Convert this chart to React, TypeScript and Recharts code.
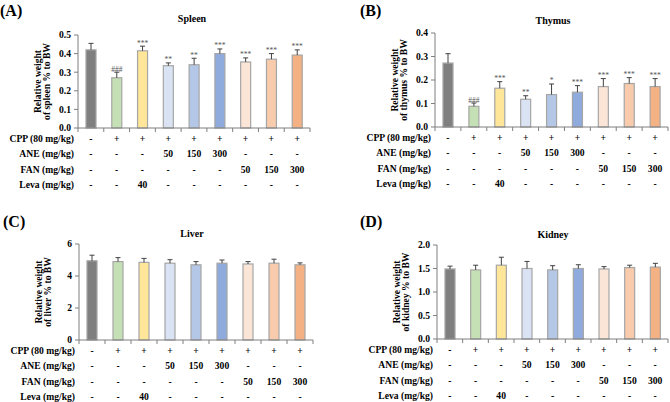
import React from 'react';
import { BarChart, Bar, XAxis, YAxis, Cell } from 'recharts';

const groups = ['Control', 'CPP', 'Leva', 'ANE50', 'ANE150', 'ANE300', 'FAN50', 'FAN150', 'FAN300'];
const barColors = ['#7f7f7f', '#c5e0b4', '#ffe699', '#dae3f3', '#b4c7e7', '#8faadc', '#fbe5d6', '#f8cbad', '#f4b183'];

const rowLabels = ['CPP (80 mg/kg)', 'ANE (mg/kg)', 'FAN (mg/kg)', 'Leva (mg/kg)'];
const cppRow = ['-', '+', '+', '+', '+', '+', '+', '+', '+'];
const aneRow = ['-', '-', '-', '50', '150', '300', '-', '-', '-'];
const fanRow = ['-', '-', '-', '-', '-', '-', '50', '150', '300'];
const levaRow = ['-', '-', '40', '-', '-', '-', '-', '-', '-'];
const tableRows = [cppRow, aneRow, fanRow, levaRow];

const spleenMean = [0.42, 0.27, 0.415, 0.335, 0.34, 0.40, 0.355, 0.37, 0.392];
const spleenSd = [0.035, 0.03, 0.025, 0.015, 0.035, 0.025, 0.022, 0.03, 0.028];
const spleenSig = ['', '###', '***', '**', '**', '***', '***', '***', '***'];
const spleenTicks = [0, 0.1, 0.2, 0.3, 0.4, 0.5];

const thymusMean = [0.272, 0.088, 0.165, 0.118, 0.138, 0.148, 0.172, 0.185, 0.172];
const thymusSd = [0.04, 0.014, 0.028, 0.015, 0.045, 0.028, 0.034, 0.025, 0.034];
const thymusSig = ['', '###', '***', '**', '*', '***', '***', '***', '***'];
const thymusTicks = [0, 0.1, 0.2, 0.3, 0.4];

const liverMean = [4.95, 4.9, 4.85, 4.8, 4.7, 4.8, 4.75, 4.8, 4.7];
const liverSd = [0.35, 0.25, 0.25, 0.22, 0.2, 0.2, 0.15, 0.25, 0.12];
const liverSig = ['', '', '', '', '', '', '', '', ''];
const liverTicks = [0, 2, 4, 6];

const kidneyMean = [1.49, 1.47, 1.57, 1.5, 1.47, 1.5, 1.49, 1.52, 1.53];
const kidneySd = [0.06, 0.1, 0.17, 0.15, 0.09, 0.08, 0.05, 0.05, 0.08];
const kidneySig = ['', '', '', '', '', '', '', '', ''];
const kidneyTicks = [0, 0.5, 1.0, 1.5, 2.0];

const FONT = '"Liberation Serif", "Times New Roman", serif';

const build = (mean: number[], sd: number[], sig: string[]) =>
  groups.map((g, i) => ({ group: g, mean: mean[i], sd: sd[i], sig: sig[i] }));

type PanelProps = {
  left: number;
  top: number;
  w: number;
  h: number;
  axisX: number;
  plotRight: number;
  plotTop: number;
  plotBottom: number;
  data: any[];
  ticks: number[];
  digits: number;
  organ: string;
};

function Panel(p: PanelProps) {
  const band = (p.plotRight - p.axisX) / groups.length;
  const yAxisW = 30;
  const xAxisH = 50;

  const tableTick = (props: any) => {
    const { x, y, index } = props;
    const offsets = [10, 25.5, 41, 56.5];
    return (
      <g>
        {index === 0 && (
          <line x1={x - band / 2} y1={y} x2={x - band / 2} y2={y + 4} stroke="#7f7f7f" />
        )}
        <line x1={x + band / 2} y1={y} x2={x + band / 2} y2={y + 4} stroke="#7f7f7f" />
        {tableRows.map((row, r) => (
          <text key={r} x={x} y={y + offsets[r] + 3.5} textAnchor="middle" fontFamily={FONT}
            fontWeight="bold" fontSize={9.6} fill="#000">{row[index]}</text>
        ))}
        {index === 0 && rowLabels.map((lab, r) => (
          <text key={'l' + r} x={x - band / 2 - 4} y={y + offsets[r] + 3.5} textAnchor="end"
            fontFamily={FONT} fontWeight="bold" fontSize={9.6} fill="#000">{lab}</text>
        ))}
      </g>
    );
  };

  const barShape = (props: any) => {
    const { x, y, width, height, index, payload } = props;
    const ppu = height / payload.mean;
    const cx = x + width / 2;
    const ey = y - payload.sd * ppu;
    return (
      <g>
        <rect x={x} y={y} width={width} height={height} fill={barColors[index]} stroke="#a6a6a6" strokeWidth={1.2} />
        <line x1={cx} y1={y} x2={cx} y2={ey} stroke="#404040" strokeWidth={1} />
        <line x1={cx - 2.5} y1={ey} x2={cx + 2.5} y2={ey} stroke="#404040" strokeWidth={1} />
        {payload.sig && (
          <text x={cx} y={ey - 0.5} textAnchor="middle" fontFamily={FONT} fontSize={7.5} fill="#555">{payload.sig}</text>
        )}
      </g>
    );
  };

  const yLabel = () => (
    <g>
      <text transform={`translate(${p.axisX - 37},${(p.plotTop + p.plotBottom) / 2}) rotate(-90)`}
        textAnchor="middle" fontFamily={FONT} fontWeight="bold" fontSize={9.6} fill="#000">Relative weight</text>
      <text transform={`translate(${p.axisX - 28},${(p.plotTop + p.plotBottom) / 2}) rotate(-90)`}
        textAnchor="middle" fontFamily={FONT} fontWeight="bold" fontSize={9.6} fill="#000">{`of ${p.organ} % to BW`}</text>
    </g>
  );

  return (
    <div style={{ position: 'absolute', left: p.left, top: p.top }}>
      <BarChart
        width={p.w}
        height={p.h}
        data={p.data}
        barSize={10}
        margin={{ top: p.plotTop, right: p.w - p.plotRight, bottom: p.h - p.plotBottom - xAxisH, left: p.axisX - yAxisW }}
        style={{ overflow: 'visible' }}
      >
        <XAxis dataKey="group" height={xAxisH} tickLine={false} tickSize={0} tickMargin={0}
          axisLine={{ stroke: '#7f7f7f' }} tick={tableTick} interval={0} />
        <YAxis width={yAxisW} domain={[p.ticks[0], p.ticks[p.ticks.length - 1]]} ticks={p.ticks}
          tickSize={4} tickLine={{ stroke: '#7f7f7f' }} axisLine={{ stroke: '#7f7f7f' }} tickMargin={3}
          tickFormatter={(v: number) => v.toFixed(p.digits)}
          tick={{ fontFamily: FONT, fontWeight: 'bold', fontSize: 9.6, fill: '#000' }}
          label={{ content: yLabel }} />
        <Bar dataKey="mean" isAnimationActive={false} shape={barShape}>
          {p.data.map((_, i) => <Cell key={i} fill={barColors[i]} />)}
        </Bar>
      </BarChart>
    </div>
  );
}

export default function App() {
  const titleStyle = { fontFamily: FONT, fontWeight: 'bold' as const, fontSize: 10, fill: '#000' };
  const letterStyle = { fontFamily: FONT, fontWeight: 'bold' as const, fontSize: 16, fill: '#000' };
  return (
    <div style={{ position: 'absolute', left: 0, top: 0, width: 670, height: 402, background: '#fff', overflow: 'hidden' }}>
      <Panel left={0} top={0} w={335} h={200} axisX={78} plotRight={310} plotTop={35} plotBottom={128}
        data={build(spleenMean, spleenSd, spleenSig)} ticks={spleenTicks} digits={1} organ="spleen" />
      <Panel left={335} top={0} w={335} h={200} axisX={100} plotRight={333} plotTop={33} plotBottom={127}
        data={build(thymusMean, thymusSd, thymusSig)} ticks={thymusTicks} digits={1} organ="thymus" />
      <Panel left={0} top={200} w={335} h={202} axisX={79} plotRight={313} plotTop={44} plotBottom={140}
        data={build(liverMean, liverSd, liverSig)} ticks={liverTicks} digits={0} organ="liver" />
      <Panel left={335} top={200} w={335} h={202} axisX={102} plotRight={333} plotTop={45} plotBottom={139}
        data={build(kidneyMean, kidneySd, kidneySig)} ticks={kidneyTicks} digits={1} organ="kidney" />
      <svg width={670} height={402} style={{ position: 'absolute', left: 0, top: 0, pointerEvents: 'none' }}>
        <text x={0} y={16} {...letterStyle}>(A)</text>
        <text x={360} y={16} {...letterStyle}>(B)</text>
        <text x={3} y={227} {...letterStyle}>(C)</text>
        <text x={360} y={227} {...letterStyle}>(D)</text>
        <text x={192} y={21.5} textAnchor="middle" {...titleStyle}>Spleen</text>
        <text x={553} y={23.5} textAnchor="middle" {...titleStyle}>Thymus</text>
        <text x={192} y={236.5} textAnchor="middle" {...titleStyle}>Liver</text>
        <text x={553} y={237.5} textAnchor="middle" {...titleStyle}>Kidney</text>
      </svg>
    </div>
  );
}
